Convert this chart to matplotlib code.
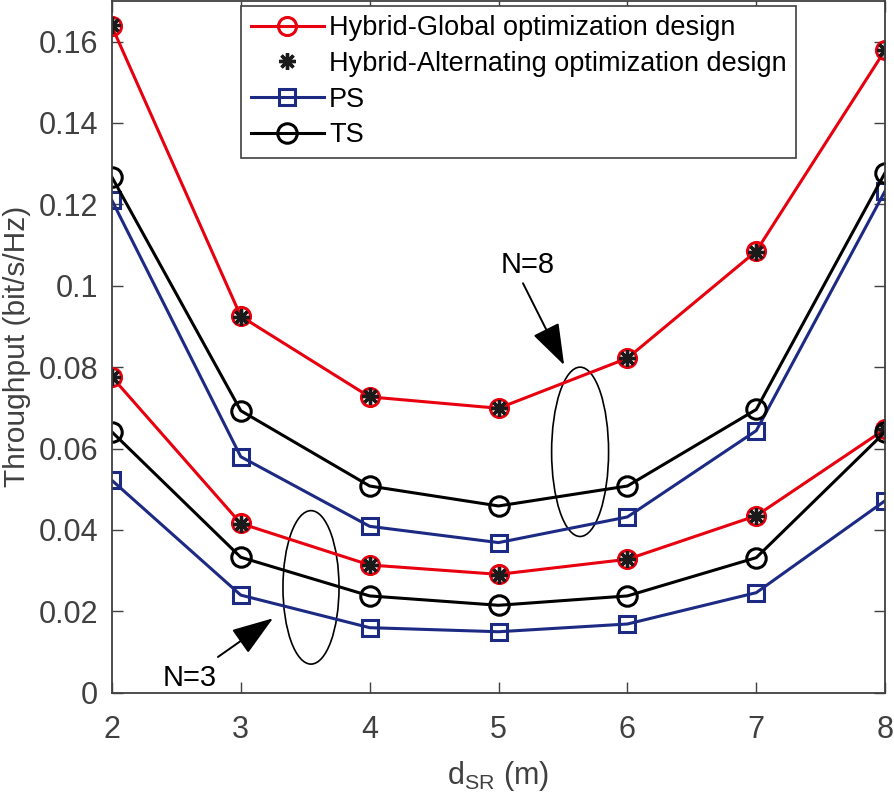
import matplotlib.pyplot as plt
from matplotlib.patches import Ellipse

plt.rcParams['font.family'] = ['Liberation Sans', 'DejaVu Sans']
plt.rcParams['mathtext.fontset'] = 'custom'
plt.rcParams['mathtext.rm'] = 'Liberation Sans'
plt.rcParams['mathtext.it'] = 'Liberation Sans:italic'

# distance d_SR (m)
d_sr = [2, 3, 4, 5, 6, 7, 8]

# N = 8
hyb_global_8 = [0.1637, 0.0925, 0.0727, 0.0699, 0.0822, 0.1085, 0.1579]
hyb_alt_8 = [0.1640, 0.0923, 0.0728, 0.0699, 0.0823, 0.1084, 0.1580]
ps_8 = [0.1210, 0.0580, 0.0409, 0.0369, 0.0432, 0.0644, 0.1233]
ts_8 = [0.1267, 0.0693, 0.0508, 0.0459, 0.0508, 0.0696, 0.1278]

# N = 3
hyb_global_3 = [0.0776, 0.0416, 0.0314, 0.0291, 0.0328, 0.0435, 0.0648]
hyb_alt_3 = [0.0776, 0.0415, 0.0314, 0.0290, 0.0328, 0.0435, 0.0648]
ps_3 = [0.0522, 0.0240, 0.0160, 0.0150, 0.0169, 0.0246, 0.0472]
ts_3 = [0.0641, 0.0333, 0.0238, 0.0215, 0.0238, 0.0332, 0.0641]

y_ticks = [0, 0.02, 0.04, 0.06, 0.08, 0.1, 0.12, 0.14, 0.16]
y_tick_labels = ['0', '0.02', '0.04', '0.06', '0.08', '0.1', '0.12', '0.14', '0.16']

red = '#e8000e'
blue = '#1c2a84'
grey = '#404040'
lw = 2.2

fig = plt.figure(figsize=(8.95, 8), dpi=100)
ax = fig.add_axes([0.125, 0.134, 0.864, 0.865])

for hg, ha, ps, ts, lab in [(hyb_global_8, hyb_alt_8, ps_8, ts_8, True),
                            (hyb_global_3, hyb_alt_3, ps_3, ts_3, False)]:
    ax.plot(d_sr, hg, color=red, lw=lw, marker='o', ms=13, mfc='none', mew=2.2,
            label='Hybrid-Global optimization design' if lab else None)
    ax.plot(d_sr, ha, ls='none', color='#1a1a1a', marker=(8, 2, 0), ms=12, mew=2.4,
            label='Hybrid-Alternating optimization design' if lab else None)
    ax.plot(d_sr, ps, color=blue, lw=lw, marker='s', ms=12, mfc='none', mew=2.2,
            label='PS' if lab else None)
    ax.plot(d_sr, ts, color='k', lw=lw, marker='o', ms=14, mfc='none', mew=2.2,
            label='TS' if lab else None)

# ellipses grouping the curves
ax.add_patch(Ellipse((5.633, 0.0592), 0.442, 0.0416, fill=False, ec='k', lw=1.2))
ax.add_patch(Ellipse((3.545, 0.0259), 0.435, 0.0377, fill=False, ec='k', lw=1.2))

arrow = dict(arrowstyle='-|>,head_length=1.3,head_width=0.45', color='k', lw=1.4,
             mutation_scale=20, shrinkA=0, shrinkB=0)
ax.annotate('', xy=(5.509, 0.0805), xytext=(5.19, 0.1006), arrowprops=arrow)
ax.text(5.229, 0.1051, 'N=8', fontsize=21, ha='center', va='center')
ax.annotate('', xy=(3.25, 0.0183), xytext=(2.823, 0.0088), arrowprops=arrow)
ax.text(2.605, 0.0036, 'N=3', fontsize=21, ha='center', va='center')

ax.set_xlim(2, 8)
ax.set_ylim(0, 0.17)
ax.set_xticks(d_sr)
ax.set_yticks(y_ticks)
ax.set_yticklabels(y_tick_labels)
ax.tick_params(direction='in', length=8, width=1, top=True, right=True,
               labelsize=22, colors=grey)
ax.tick_params(axis='y', pad=10)
ax.tick_params(axis='x', pad=16)
for sp in ax.spines.values():
    sp.set_color(grey)
    sp.set_linewidth(1.3)

ax.set_xlabel(r'$\mathregular{d_{SR}}$ (m)', fontsize=22, color=grey, labelpad=10)
ax.set_ylabel('Throughput (bit/s/Hz)', fontsize=21.5, color=grey, labelpad=5)

leg = ax.legend(loc='upper right', bbox_to_anchor=(0.885, 0.993), borderaxespad=0,
                fontsize=19.5, fancybox=False, edgecolor=grey, framealpha=1,
                handlelength=2.7, labelspacing=0.36, borderpad=0.35, handletextpad=0.2)
leg.get_frame().set_linewidth(1.2)

fig.savefig('out.png', dpi=100)
